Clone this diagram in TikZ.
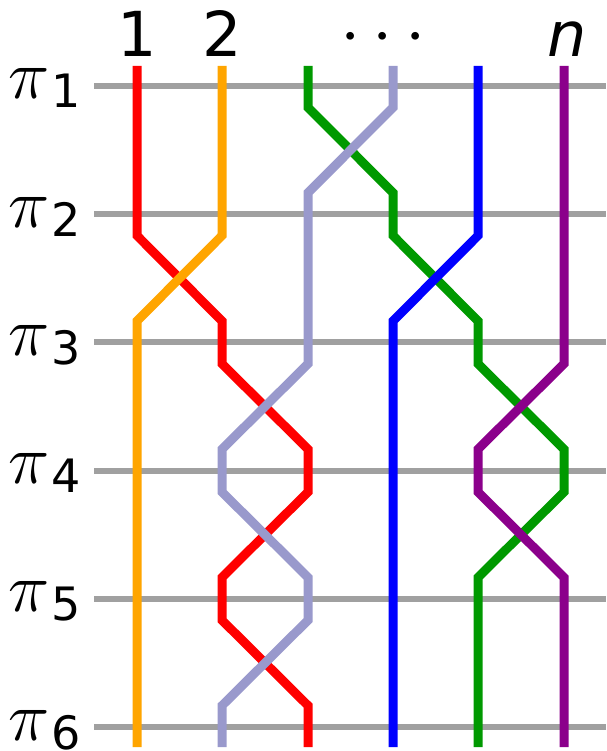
\documentclass[tikz,border=0pt]{standalone}
\usepackage{fontspec}
\setmainfont{DejaVu Sans}
\definecolor{sred}{HTML}{FF0000}
\definecolor{sorange}{HTML}{FFA500}
\definecolor{sgreen}{HTML}{009900}
\definecolor{slav}{HTML}{9999CC}
\definecolor{sblue}{HTML}{0000FF}
\definecolor{spurple}{HTML}{8B008B}
\definecolor{sgray}{HTML}{A0A0A0}
\newcommand{\bigpi}{\scalebox{2.8}{\fontsize{24.88}{30}\selectfont$\pi$}}
\newcommand{\bigdots}{\scalebox{2.93}{\fontsize{24.88}{30}\selectfont$\cdots$}}
\begin{document}
\begin{tikzpicture}[x=1pt,y=-1pt,
  rowline/.style={draw=sgray,line width=6pt},
  strand/.style={line width=9pt},
  toplab/.style={anchor=base,inner sep=0pt,font=\fontsize{62}{70}\selectfont},
  pilab/.style={anchor=base west,inner sep=0pt},
  sublab/.style={anchor=base west,inner sep=0pt,font=\fontsize{46}{50}\selectfont}]
\useasboundingbox (0,0) rectangle (606,751);
% row lines
\foreach \y [count=\i] in {86,214.2,342.4,470.6,598.8,727}{
  \coordinate (L\i a) at (94,\y);
  \coordinate (L\i b) at (606,\y);
  \draw[rowline] (L\i a) -- (L\i b);
  \node[pilab] (pi\i) at (8,\y+13) {\bigpi};
  \node[sublab] (sub\i) at (51,\y+22) {\i};
}
% strands
\draw[strand,draw=sred] (137,66) -- (137,235.6) -- (222,321) -- (222,363.8) -- (308,449.2) -- (308,492) -- (222,577.4) -- (222,620.2) -- (308,705.6) -- (308,747);
\draw[strand,draw=sorange] (222,66) -- (222,235.6) -- (137,321) -- (137,747);
\draw[strand,draw=sgreen] (308,66) -- (308,107.4) -- (393,192.8) -- (393,235.6) -- (478,321) -- (478,363.8) -- (564,449.2) -- (564,492) -- (478,577.4) -- (478,747);
\draw[strand,draw=slav] (393,66) -- (393,107.4) -- (308,192.8) -- (308,363.8) -- (222,449.2) -- (222,492) -- (308,577.4) -- (308,620.2) -- (222,705.6) -- (222,747);
\draw[strand,draw=sblue] (478,66) -- (478,235.6) -- (393,321) -- (393,747);
\draw[strand,draw=spurple] (564,66) -- (564,363.8) -- (478,449.2) -- (478,492) -- (564,577.4) -- (564,747);
% top labels
\node[toplab] (t1) at (137,57) {1};
\node[toplab] (t2) at (222,57) {2};
\node[anchor=base,inner sep=0pt] (tdots) at (383,55) {\bigdots};
\node[toplab] (tn) at (567,57) {\itshape n};
\end{tikzpicture}
\end{document}
